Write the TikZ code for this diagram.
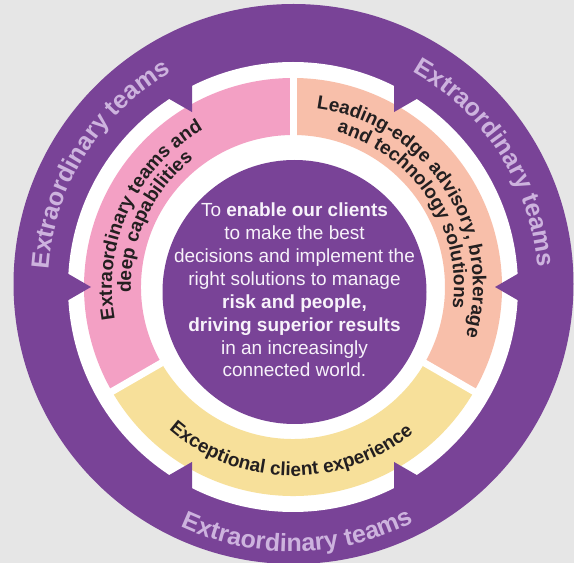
\documentclass[tikz,border=0pt]{standalone}
\usepackage{fontspec}
\setmainfont{Liberation Sans}
\usetikzlibrary{calc,decorations.text}
\definecolor{bgc}{HTML}{E6E6E6}
\definecolor{purp}{HTML}{794397}
\definecolor{pinkc}{HTML}{F3A0C4}
\definecolor{salm}{HTML}{F8BFAA}
\definecolor{yelc}{HTML}{F7E09A}
\definecolor{outtxt}{HTML}{CDB3DE}
\definecolor{bandtxt}{HTML}{231F20}
\definecolor{ctext}{HTML}{F7F2FA}
\newcommand\outerfmt{\fontsize{25}{25}\selectfont\bfseries\color{outtxt}}
\newcommand\bandfmt{\fontsize{19}{19}\selectfont\bfseries\color{bandtxt}}
\tikzset{
  arctext/.style={decorate,decoration={text along path,text align=center,text={#1}}},
  gapline/.style={white,line width=7},
  notch/.style={fill=purp}
}
\begin{document}
\begin{tikzpicture}[x=1pt,y=1pt]
\useasboundingbox (0,0) rectangle (574,563);
\fill[bgc] (0,0) rectangle (574,563);
\coordinate (Co) at (293.5,279);
\coordinate (Cm) at (293,276);
\coordinate (Ci) at (294.5,271);
\coordinate (Ct) at (293,277.5);
% outer purple disc and white ring
\fill[purp] (Co) circle[radius=280];
\fill[white] (Cm) circle[radius=225];
% coloured segments
\fill[salm] ($(Cm)+(-30:209)$) arc[start angle=-30,end angle=90,radius=209]
  -- ($(Cm)+(90:152)$) arc[start angle=90,end angle=-30,radius=152] -- cycle;
\fill[pinkc] ($(Cm)+(90:209)$) arc[start angle=90,end angle=210,radius=209]
  -- ($(Cm)+(210:152)$) arc[start angle=210,end angle=90,radius=152] -- cycle;
\fill[yelc] ($(Cm)+(210:209)$) arc[start angle=210,end angle=330,radius=209]
  -- ($(Cm)+(330:152)$) arc[start angle=330,end angle=210,radius=152] -- cycle;
\foreach \a in {90,210,330}
  \draw[gapline] ($(Cm)+(\a:140)$) -- ($(Cm)+(\a:215)$);
% notches
\foreach \a in {0,60,120,180,240,300}{
  \coordinate (T) at ($(Cm)+(\a:202)$);
  \fill[notch] (T) -- ($(T)+(\a+30:40)$) -- ($(T)+(\a-30:40)$) -- cycle;
}
% central disc
\fill[purp] (Ci) circle[radius=132];
% outer texts
\path[arctext={|\outerfmt|Extraordinary teams}] ($(Ct)+(188:245)$) arc[start angle=188,end angle=108,radius=245];
\path[arctext={|\outerfmt|Extraordinary teams}] ($(Ct)+(72.5:245)$) arc[start angle=72.5,end angle=-7.5,radius=245];
\path[arctext={|\outerfmt|Extraordinary teams}] ($(Ct)+(-129:266)$) arc[start angle=-129,end angle=-49,radius=266];
% band texts
\path[arctext={|\bandfmt|Extraordinary teams and}] ($(Cm)+(205:181)$) arc[start angle=205,end angle=105,radius=181];
\path[arctext={|\bandfmt|deep capabilities}] ($(Cm)+(200:162)$) arc[start angle=200,end angle=110,radius=162];
\path[arctext={|\bandfmt|Leading-edge advisory, brokerage}] ($(Cm)+(93.3:180)$) arc[start angle=93.3,end angle=-26.7,radius=180];
\path[arctext={|\bandfmt|and technology solutions}] ($(Cm)+(83.3:161)$) arc[start angle=83.3,end angle=-16.7,radius=161];
\path[arctext={|\bandfmt|Exceptional client experience}] ($(Cm)+(-140.7:189)$) arc[start angle=-140.7,end angle=-40.7,radius=189];
% central text
\node[font=\fontsize{19}{22.9}\selectfont,text=ctext,align=center,inner sep=0] (mission) at (294.5,273)
  {To \textbf{enable our clients}\\to make the best\\decisions and implement the\\right solutions to manage\\\textbf{risk and people,}\\\textbf{driving superior results}\\in an increasingly\\connected world.};
\end{tikzpicture}
\end{document}
